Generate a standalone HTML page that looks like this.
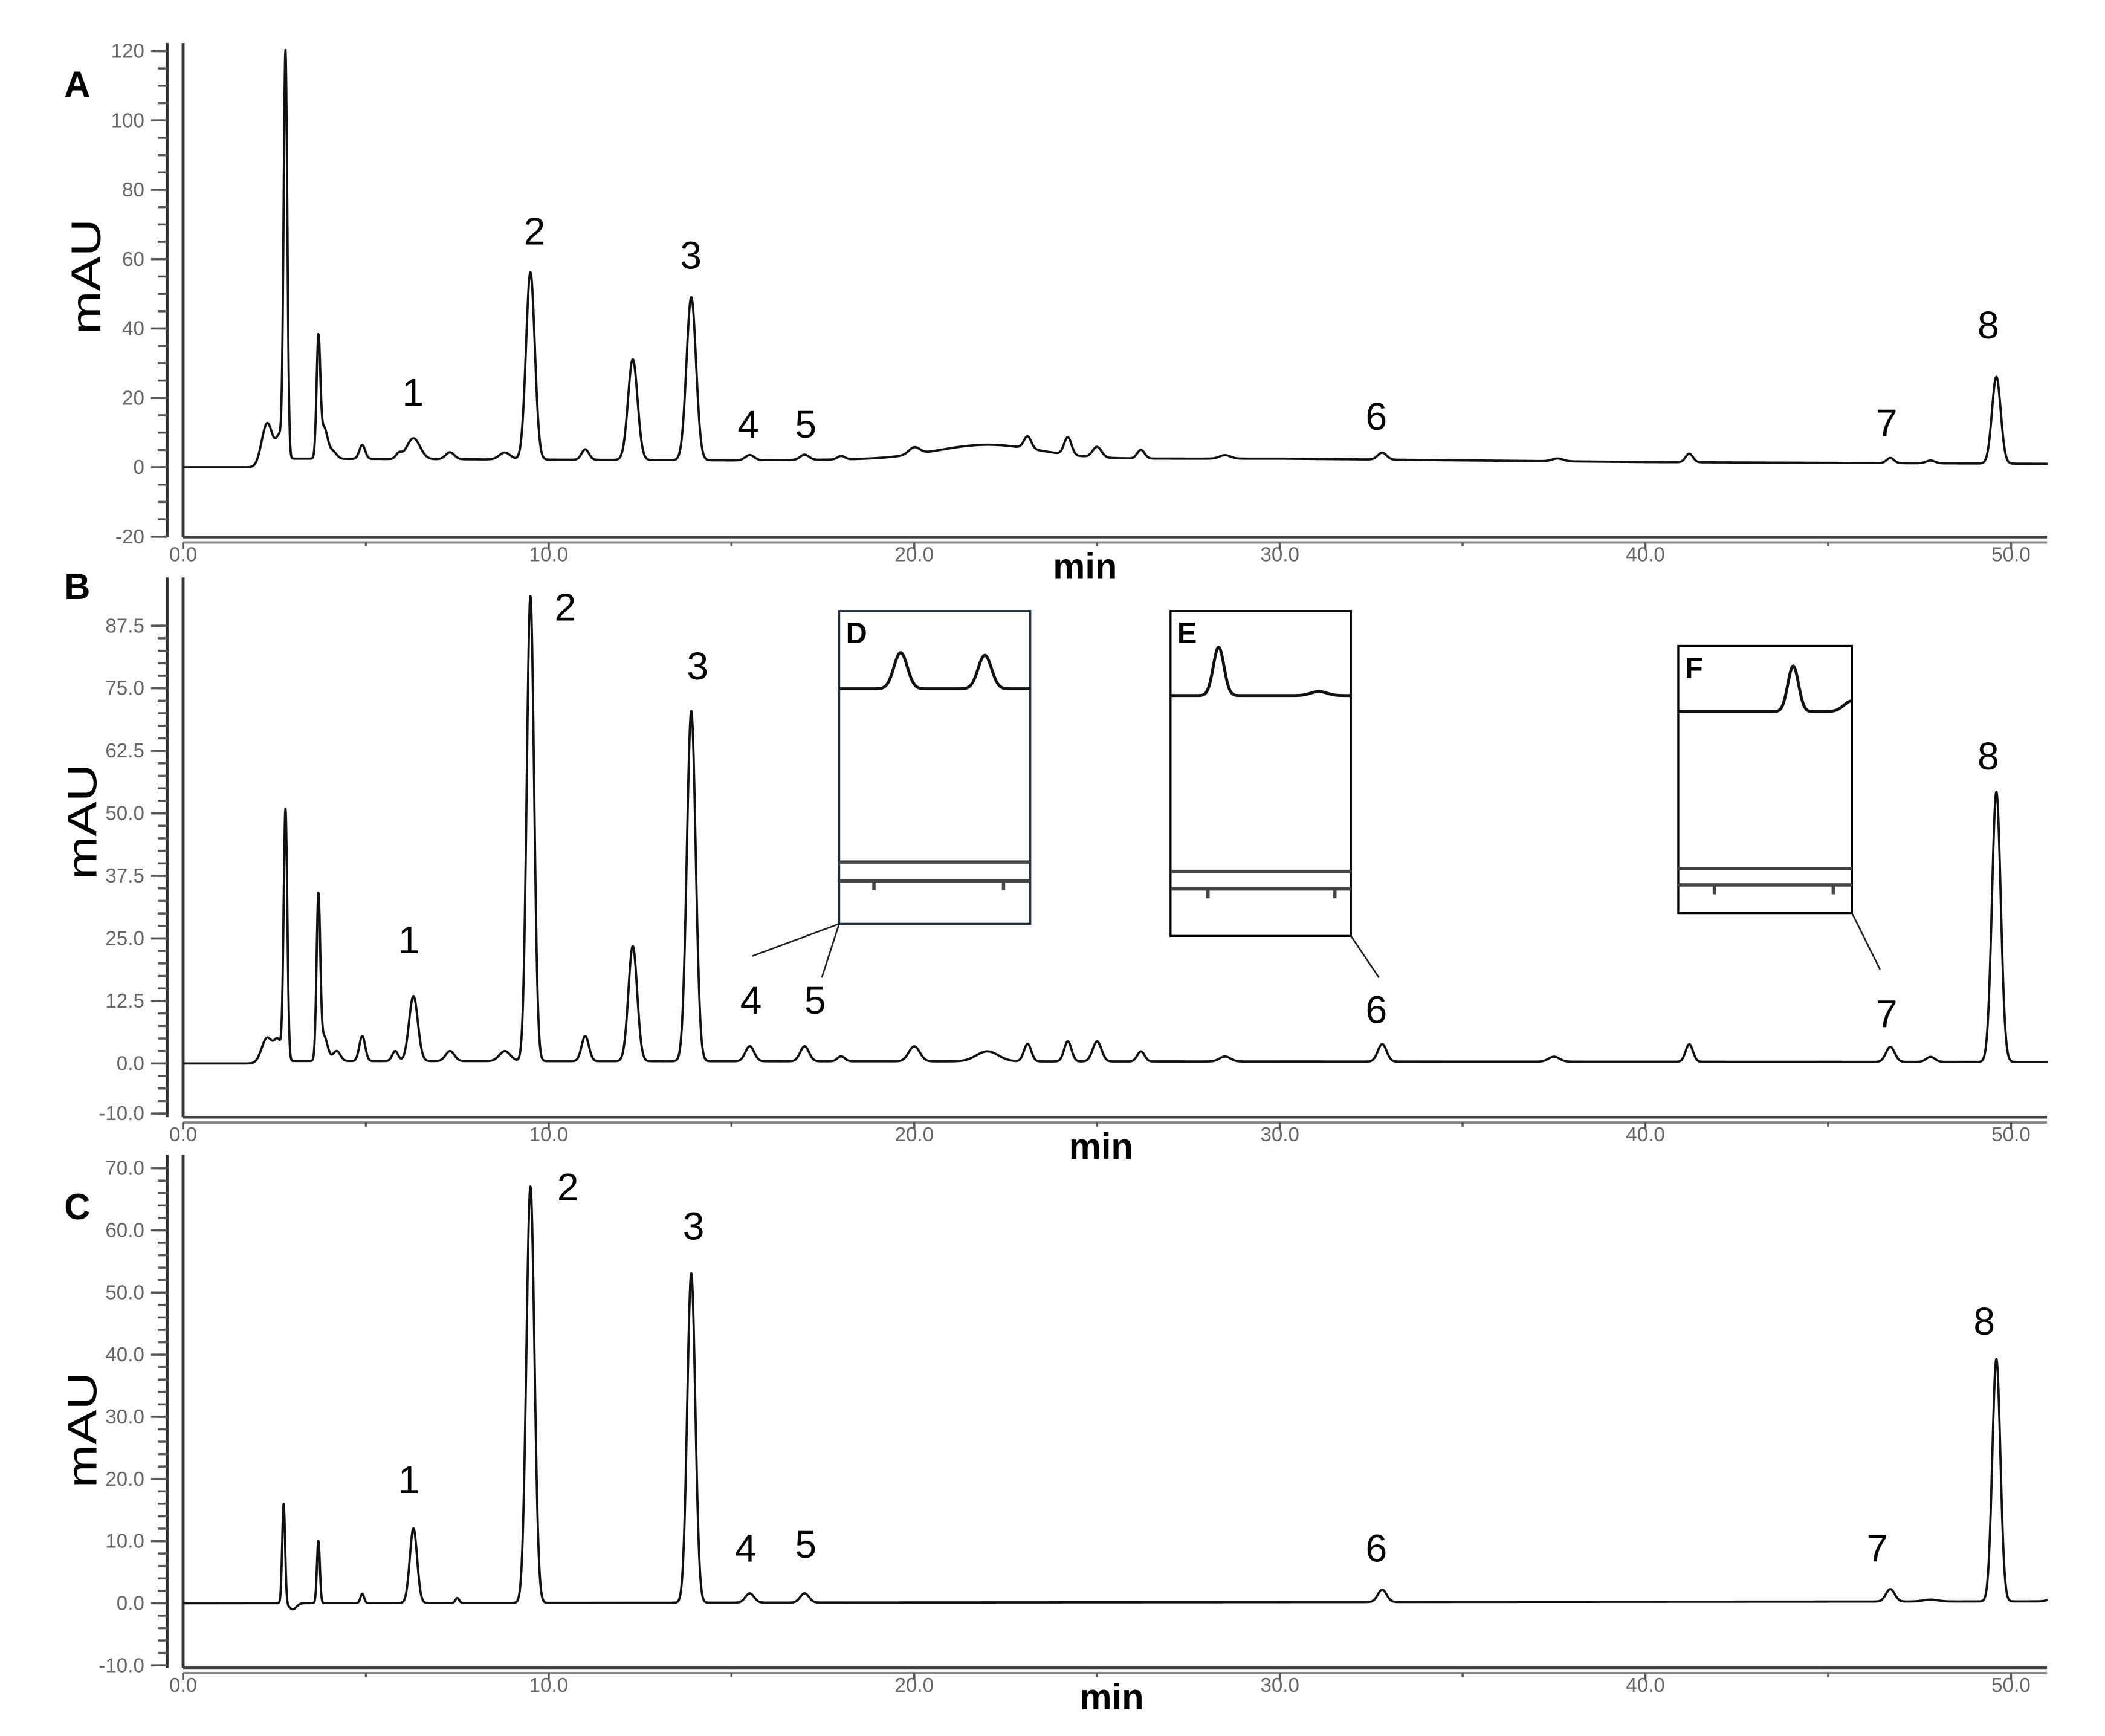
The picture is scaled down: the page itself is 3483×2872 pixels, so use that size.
<!DOCTYPE html>
<html><head><meta charset="utf-8"><style>
html,body{margin:0;padding:0;background:#fff;}
svg{display:block;}
text{font-family:"Liberation Sans",sans-serif;}
</style></head><body>
<svg id="fig" width="3483" height="2872" viewBox="0 0 1554 1282" preserveAspectRatio="none" xmlns="http://www.w3.org/2000/svg">
<rect width="1554" height="1282" fill="#fff"/>
<g id="root" transform="matrix(0.9864 0 0 0.9916 2.03 0)"></g>
</svg>
<script>
// Panel A data (retention time min, height mAU, sigma min)
const peakTimesA=[2.3,2.65,2.8,3.7,3.85,4.1,4.9,5.9,6.3,7.3,8.8,9.5,11.0,12.3,13.9,15.5,17.0,18.0,20.0,22.0,23.1,24.2,25.0,26.2,28.5,32.8,37.6,41.2,46.7,47.8,49.6];
const peakHeightsA=[12,7,116,33,9,2,4,1.5,6,2,2,54,3,29,47,1.5,1.5,1,2,4,3.5,5,3,2.5,1,2,0.8,2.5,1.5,0.8,25];
const peakWidthsA=[0.15,0.1,0.05,0.05,0.1,0.1,0.08,0.08,0.18,0.12,0.15,0.12,0.1,0.13,0.13,0.12,0.12,0.1,0.15,1.4,0.1,0.1,0.12,0.1,0.15,0.12,0.15,0.1,0.1,0.12,0.12];
const baselineA=[[0,0],[2,0],[3,2.5],[15,2],[22,2.5],[30,2.5],[40,1.5],[51,1]];
// Panel B
const peakTimesB=[2.3,2.6,2.8,3.7,3.85,4.2,4.9,5.8,6.3,7.3,8.8,9.5,11.0,12.3,13.9,15.5,17.0,18.0,20.0,22.0,23.1,24.2,25.0,26.2,28.5,32.8,37.5,41.2,46.7,47.8,49.6];
const peakHeightsB=[5,4,50,32,5,2,5,2,13,2,2,93,5,23,70,3,3,1,3,2,3.5,4,4,2,1,3.5,1,3.5,3,1,54];
const peakWidthsB=[0.15,0.1,0.05,0.05,0.1,0.1,0.08,0.08,0.12,0.12,0.15,0.1,0.1,0.12,0.12,0.12,0.12,0.1,0.15,0.3,0.1,0.1,0.12,0.1,0.15,0.12,0.15,0.1,0.12,0.12,0.12];
const baselineB=[[0,0],[2,0],[3,0.5],[51,0.3]];
// Panel C
const peakTimesC=[2.75,3.0,3.7,4.9,6.3,7.5,9.5,13.9,15.5,17.0,32.8,46.7,47.8,49.6,51.2];
const peakHeightsC=[16,-1,10,1.5,12,0.8,67,53,1.5,1.5,2,2,0.3,39,0.6];
const peakWidthsC=[0.04,0.1,0.04,0.05,0.1,0.05,0.11,0.11,0.12,0.12,0.12,0.12,0.2,0.11,0.15];
const baselineC=[[0,0],[51,0.3]];

const yTicksA=[120,100,80,60,40,20,0,-20];
const yTicksB=[87.5,75.0,62.5,50.0,37.5,25.0,12.5,0.0,-10.0];
const yTicksC=[70.0,60.0,50.0,40.0,30.0,20.0,10.0,0.0,-10.0];
const xTicks=[0,10,20,30,40,50];
const labelsTxt=["1","2","3","4","5","6","7","8"];

const NS="http://www.w3.org/2000/svg";
const svg=document.getElementById('root');
function el(tag,attrs,parent){const e=document.createElementNS(NS,tag);for(const k in attrs)e.setAttribute(k,attrs[k]);(parent||svg).appendChild(e);return e;}

const X0=135,PX_PER_MIN=27.36,XEND=1530;
function xs(t){return X0+t*PX_PER_MIN;}

function baseAt(b,t){for(let i=0;i<b.length-1;i++){if(t>=b[i][0]&&t<=b[i+1][0]){const f=(t-b[i][0])/(b[i+1][0]-b[i][0]);return b[i][1]+f*(b[i+1][1]-b[i][1]);}}return b[b.length-1][1];}

function panel(cfg){
  const g=el('g',{});
  
  
  const ys=v=>cfg.y0+(v)*(cfg.yTop-cfg.y0)/cfg.vTop;
  const ax=el('line',{x1:123,y1:cfg.axTop,x2:123,y2:cfg.xAxY,stroke:'#333','stroke-width':2.2},g);
  
  
  el('line',{x1:X0,y1:cfg.axTop,x2:X0,y2:cfg.xAxY,stroke:'#333','stroke-width':2.2},g);
  const xa=el('line',{x1:X0,y1:cfg.xAxY,x2:XEND,y2:cfg.xAxY,stroke:'#444','stroke-width':2},g);
  
  
  el('line',{x1:X0,y1:cfg.xAxY+4,x2:XEND,y2:cfg.xAxY+4,stroke:'#888','stroke-width':1.8},g);
  const vmin=cfg.ticks[cfg.ticks.length-1],vmax=cfg.ticks[0];
  for(let v=vmin;v<=vmax+1e-6;v+=cfg.minor){el('line',{x1:116,y1:ys(v),x2:123,y2:ys(v),stroke:'#555','stroke-width':1.6},g);}
  cfg.ticks.forEach(v=>{
    el('line',{x1:111,y1:ys(v),x2:123,y2:ys(v),stroke:'#555','stroke-width':1.6},g);
    const t=el('text',{x:106,y:ys(v)+5,'text-anchor':'end','font-size':15,fill:'#666'},g);
    t.textContent=cfg.fmt(v);
    
    
  });
  xTicks.forEach(v=>{
    el('line',{x1:xs(v),y1:cfg.xAxY+4,x2:xs(v),y2:cfg.xAxY+9,stroke:'#555','stroke-width':1.6},g);
    el('line',{x1:xs(v+5),y1:cfg.xAxY+4,x2:xs(v+5),y2:cfg.xAxY+7,stroke:'#555','stroke-width':1.6},g);
    const t=el('text',{x:xs(v),y:cfg.xAxY+18,'text-anchor':'middle','font-size':15,fill:'#666'},g);
    t.textContent=v.toFixed(1);
    
    
  });
  const mt=el('text',{x:cfg.minX,y:cfg.xAxY+31,'text-anchor':'middle','font-size':27,'font-weight':'bold',fill:'#000'},g);
  mt.textContent='min';
  
  
  const yt=el('text',{x:0,y:0,'text-anchor':'middle','font-size':31,fill:'#000',textLength:86,lengthAdjust:'spacingAndGlyphs',transform:`translate(${cfg.mauX},${cfg.mauY}) rotate(-90)`},g);
  yt.textContent='mAU';
  
  
  const pl=el('text',{x:cfg.lx,y:cfg.ly,'font-size':27,'font-weight':'bold',fill:'#000'},g);
  pl.textContent=cfg.id;
  
  
  let d='';
  for(let t=0;t<=51.0;t+=0.01){
    let v=baseAt(cfg.base,t);
    for(let i=0;i<cfg.pt.length;i++){const z=(t-cfg.pt[i])/cfg.pw[i];if(Math.abs(z)<6)v+=cfg.ph[i]*Math.exp(-0.5*z*z);}
    d+=(d?'L':'M')+xs(t).toFixed(2)+','+ys(v).toFixed(2);
  }
  const tr=el('path',{d:d,fill:'none',stroke:'#111','stroke-width':1.7,'stroke-linejoin':'round'},g);
  
  
  cfg.lab.forEach((p,i)=>{
    const t=el('text',{x:p[0],y:p[1],'text-anchor':'middle','font-size':29,fill:'#000'},g);
    t.textContent=labelsTxt[i];
    
    
  });
}

panel({id:'A',pt:peakTimesA,ph:peakHeightsA,pw:peakWidthsA,base:baselineA,y0:348,yTop:38,vTop:120,ticks:yTicksA,minor:5,fmt:v=>String(v),axTop:32,xAxY:400,minX:810,mauX:73,mauY:206,lx:46,ly:72,
 lab:[[307,302],[398,182],[515,200],[558,326],[601,326],[1028,320],[1410,325],[1486,252]]});
panel({id:'B',pt:peakTimesB,ph:peakHeightsB,pw:peakWidthsB,base:baselineB,y0:792,yTop:466,vTop:87.5,ticks:yTicksB,minor:2.5,fmt:v=>v.toFixed(1),axTop:430,xAxY:832,minX:822,mauX:70,mauY:612,lx:46,ly:446,
 lab:[[304,710],[421,462],[520,506],[560,755],[608,755],[1028,762],[1410,765],[1486,573]]});
panel({id:'C',pt:peakTimesC,ph:peakHeightsC,pw:peakWidthsC,base:baselineC,y0:1194,yTop:870,vTop:70,ticks:yTicksC,minor:2,fmt:v=>v.toFixed(1),axTop:860,xAxY:1242,minX:830,mauX:70,mauY:1065,lx:46,ly:908,
 lab:[[304,1112],[423,894],[517,923],[556,1163],[601,1160],[1028,1163],[1403,1163],[1483,994]]});

function inset(id,bx,by,bw,bh,baseY,peaks,l1,l2,ticks,conns,stroke){
  const g=el('g',{});
  
  
  el('rect',{x:bx,y:by,width:bw,height:bh,fill:'#fff',stroke:stroke,'stroke-width':1.5},g);
  let d='';
  for(let x=bx;x<=bx+bw;x+=0.5){let y=baseY;peaks.forEach(p=>{const z=(x-p[0])/p[2];y-=p[1]*Math.exp(-0.5*z*z);});d+=(d?'L':'M')+x+','+y.toFixed(2);}
  el('path',{d:d,fill:'none',stroke:'#111','stroke-width':2.2},g);
  el('line',{x1:bx,y1:l1,x2:bx+bw,y2:l1,stroke:'#444','stroke-width':2.5},g);
  el('line',{x1:bx,y1:l2,x2:bx+bw,y2:l2,stroke:'#444','stroke-width':2.5},g);
  ticks.forEach(x=>el('line',{x1:x,y1:l2,x2:x,y2:l2+7,stroke:'#444','stroke-width':2.5},g));
  const t=el('text',{x:bx+5,y:by+24,'font-size':22,'font-weight':'bold',fill:'#000'},g);
  t.textContent=id;
  
  
  conns.forEach(c=>el('line',{x1:c[0],y1:c[1],x2:c[2],y2:c[3],stroke:'#222','stroke-width':1.2},g));
}
inset('D',626,455,143,233,513,[[672,27,5],[735,25,5]],642,656,[652,749],[[626,688,561,712],[626,688,613,728]],'#1c2c44');
inset('E',874,455,135,242,518,[[910,36,4],[985,3,6]],649,662,[902,997],[[1009,697,1030,728]],'#000');
inset('F',1254,481,130,199,530,[[1340,34,4],[1384,8,6]],647,659,[1281,1370],[[1384,680,1405,722]],'#000');
</script>
</body></html>
